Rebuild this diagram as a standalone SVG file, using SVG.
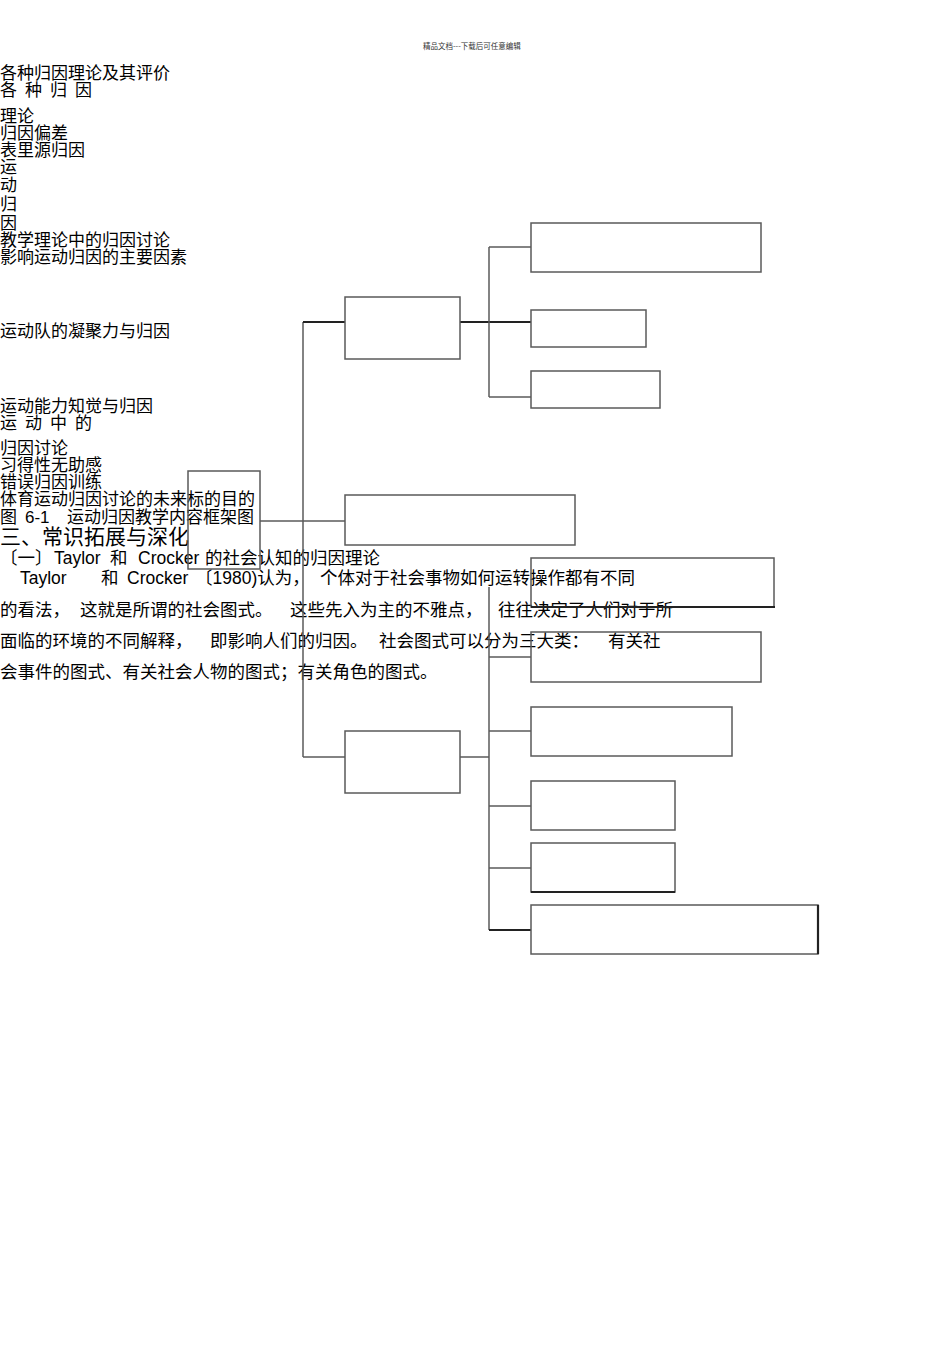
<svg xmlns="http://www.w3.org/2000/svg" width="950" height="1345" viewBox="0 0 950 1345">
<style>
.t{font-family:"Liberation Sans","Noto Sans CJK SC",sans-serif;font-size:17px;fill:#000}
.b{font-family:"Liberation Sans","Noto Sans CJK SC",sans-serif;font-size:17.5px;fill:#000}
.h{font-family:"Liberation Sans","Noto Sans CJK SC",sans-serif;font-size:21px;fill:#000}
.s{font-family:"Noto Sans CJK SC",sans-serif;font-size:7.5px;fill:#333}
.box{fill:none;stroke:#5a5a5a;stroke-width:1.5}
.ln{fill:none;stroke:#5a5a5a;stroke-width:1.5}
.thk{fill:none;stroke:#222;stroke-width:2.2}
</style>
<rect width="950" height="1345" fill="#fff"/>
<g id="page-text">
<text class="s" x="423" y="49">精品文档---下载后可任意编辑</text>
<text class="t" x="0" y="79">各种归因理论及其评价</text>
<text class="t" x="0 25 50 75" y="96">各种归因</text>
<text class="t" x="0" y="122">理论</text>
<text class="t" x="0" y="139">归因偏差</text>
<text class="t" x="0" y="156">表里源归因</text>
<text class="t" x="0" y="173">运</text>
<text class="t" x="0" y="191">动</text>
<text class="t" x="0" y="210">归</text>
<text class="t" x="0" y="229">因</text>
<text class="t" x="0" y="246">教学理论中的归因讨论</text>
<text class="t" x="0" y="263">影响运动归因的主要因素</text>
<text class="t" x="0" y="337">运动队的凝聚力与归因</text>
<text class="t" x="0" y="412">运动能力知觉与归因</text>
<text class="t" x="0 25 50 75" y="429">运动中的</text>
<text class="t" x="0" y="454">归因讨论</text>
<text class="t" x="0" y="471">习得性无助感</text>
<text class="t" x="0" y="488">错误归因训练</text>
<text class="t" x="0" y="505">体育运动归因讨论的未来标的目的</text>
<text class="t" y="523"><tspan x="0">图</tspan><tspan x="25">6-1</tspan><tspan x="67">运动归因教学内容框架图</tspan></text>
<text class="h" x="0" y="544">三、常识拓展与深化</text>
<text class="b" y="564"><tspan x="0">〔一〕</tspan><tspan x="54">Taylor</tspan><tspan x="110">和</tspan><tspan x="138">Crocker</tspan><tspan x="205">的社会认知的归因理论</tspan></text>
<text class="b" y="584"><tspan x="20">Taylor</tspan><tspan x="101">和</tspan><tspan x="127">Crocker</tspan><tspan x="195">〔1980)认为，</tspan><tspan x="320">个体对于社会事物如何运转操作都有不同</tspan></text>
<text class="b" y="616"><tspan x="0">的看法，</tspan><tspan x="80">这就是所谓的社会图式。</tspan><tspan x="290">这些先入为主的不雅点，</tspan><tspan x="498">往往决定了人们对于所</tspan></text>
<text class="b" y="647"><tspan x="0">面临的环境的不同解释，</tspan><tspan x="210">即影响人们的归因。</tspan><tspan x="379">社会图式可以分为三大类：</tspan><tspan x="608">有关社</tspan></text>
<text class="b" x="0" y="678">会事件的图式、有关社会人物的图式；有关角色的图式。</text>
</g>
<g id="connectors">
<line class="ln" x1="303" y1="322" x2="303" y2="757"/>
<line class="thk" x1="303" y1="322" x2="345" y2="322"/>
<line class="thk" x1="460" y1="322" x2="531" y2="322"/>
<line class="ln" x1="489" y1="247" x2="489" y2="397"/>
<line class="ln" x1="489" y1="247" x2="531" y2="247"/>
<line class="ln" x1="489" y1="397" x2="531" y2="397"/>
<line class="ln" x1="260" y1="521" x2="345" y2="521"/>
<line class="ln" x1="303" y1="757" x2="345" y2="757"/>
<line class="ln" x1="460" y1="757" x2="489" y2="757"/>
<line class="ln" x1="489" y1="587" x2="489" y2="930"/>
<line class="ln" x1="489" y1="657" x2="531" y2="657"/>
<line class="ln" x1="489" y1="731" x2="531" y2="731"/>
<line class="ln" x1="489" y1="806" x2="531" y2="806"/>
<line class="ln" x1="489" y1="868" x2="531" y2="868"/>
<line class="thk" x1="489" y1="930" x2="531" y2="930"/>
</g>
<g id="node-root"><rect class="box" x="188" y="471" width="72" height="98"/></g>
<g id="node-a"><rect class="box" x="345" y="297" width="115" height="62"/></g>
<g id="node-a1"><rect class="box" x="531" y="223" width="230" height="49"/></g>
<g id="node-a2"><rect class="box" x="531" y="310" width="115" height="37"/></g>
<g id="node-a3"><rect class="box" x="531" y="371" width="129" height="37"/></g>
<g id="node-b"><rect class="box" x="345" y="495" width="230" height="50"/></g>
<g id="node-c"><rect class="box" x="345" y="731" width="115" height="62"/></g>
<g id="node-c1"><rect class="box" x="531" y="558" width="243" height="49"/><line class="thk" x1="531" y1="607" x2="775" y2="607"/></g>
<g id="node-c2"><rect class="box" x="531" y="632" width="230" height="50"/></g>
<g id="node-c3"><rect class="box" x="531" y="707" width="201" height="49"/></g>
<g id="node-c4"><rect class="box" x="531" y="781" width="144" height="49"/></g>
<g id="node-c5"><rect class="box" x="531" y="843" width="144" height="49"/><line class="thk" x1="531" y1="892" x2="675" y2="892"/></g>
<g id="node-c6"><rect class="box" x="531" y="905" width="287" height="49"/><line class="thk" x1="818" y1="905" x2="818" y2="954"/></g>
</svg>
